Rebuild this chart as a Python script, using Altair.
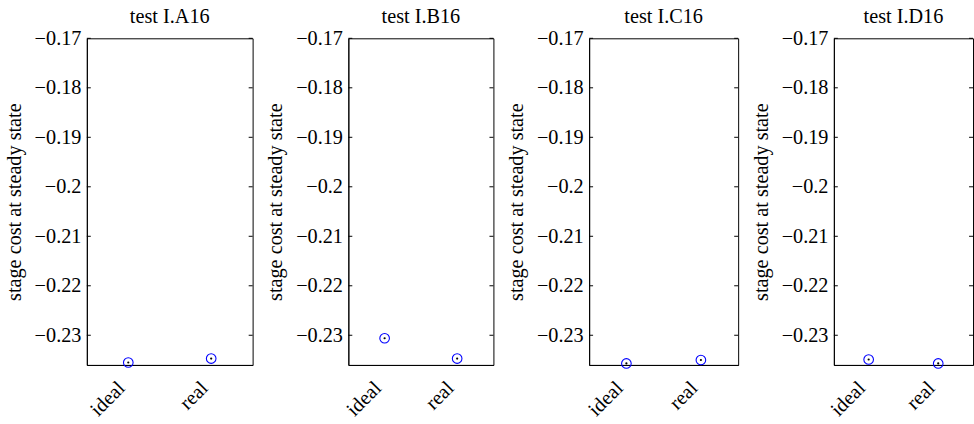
import altair as alt
import pandas as pd

# ---- data ----
tests = ["test I.A16", "test I.B16", "test I.C16", "test I.D16"]
categories = ["ideal", "real"]
ideal_vals = [-0.2355, -0.2306, -0.2357, -0.2349]
real_vals = [-0.2347, -0.2347, -0.2350, -0.2357]
y_ticks = [-0.23, -0.22, -0.21, -0.20, -0.19, -0.18, -0.17]
y_domain = [-0.236, -0.17]
y_title = "stage cost at steady state"

# ---- layout ----
PANEL_W = [168, 147, 151, 141]
PANEL_H = 331
FONT = "Liberation Serif"
FS = 20.5
TICK_LEN = 4


def y_enc():
    return alt.Y(
        "value:Q",
        scale=alt.Scale(domain=y_domain, nice=False, zero=False),
        axis=alt.Axis(
            values=y_ticks, format="~g", title=y_title, tickSize=0, grid=False,
            labelPadding=6, titlePadding=10, labelFlush=False,
            labelFont=FONT, titleFont=FONT, labelFontSize=FS, titleFontSize=FS,
            titleFontWeight="normal", labelColor="black", titleColor="black",
            domainColor="black",
        ),
    )


def panel(i):
    df = pd.DataFrame({"cat": categories, "value": [ideal_vals[i], real_vals[i]]})
    tdf = pd.DataFrame({"value": y_ticks})
    w = PANEL_W[i]
    x = alt.X(
        "cat:N", sort=categories,
        scale=alt.Scale(type="point", padding=0.5),
        axis=alt.Axis(title=None, labelAngle=315, labelAlign="right",
                      labelBaseline="middle", labelPadding=20, labelOffset=-7,
                      tickSize=0, labelFont=FONT, labelFontSize=FS,
                      labelColor="black", domainColor="black"),
    )
    circles = alt.Chart(df).mark_point(
        shape="circle", filled=False, color="#0000ff", size=95, strokeWidth=1.1, opacity=1
    ).encode(x=x, y=y_enc())
    dots = alt.Chart(df).mark_point(
        shape="circle", filled=True, color="black", size=5, opacity=1
    ).encode(x=x, y=y_enc())
    lt = alt.Chart(tdf).mark_rule(color="black", strokeWidth=1).encode(
        y=y_enc(), x=alt.value(0), x2=alt.value(TICK_LEN)
    )
    rt = alt.Chart(tdf).mark_rule(color="black", strokeWidth=1).encode(
        y=y_enc(), x=alt.value(w - TICK_LEN), x2=alt.value(w)
    )
    return alt.layer(circles, dots, lt, rt).properties(
        width=w, height=PANEL_H,
        title=alt.TitleParams(tests[i], offset=1, font=FONT, fontSize=FS,
                              fontWeight="normal", color="black"),
    )


chart = alt.hconcat(*[panel(i) for i in range(4)], spacing=12).properties(
    padding={"left": 4, "top": 4, "right": 0, "bottom": 0}
).configure_view(
    stroke="black", strokeWidth=1
).configure_axis(
    domainColor="black", labelColor="black", titleColor="black",
    labelFont=FONT, titleFont=FONT, labelFontSize=FS, titleFontSize=FS,
    titleFontWeight="normal",
).configure_title(
    font=FONT, fontSize=FS, fontWeight="normal", color="black"
)

chart.save("out.html", embed_options={"renderer": "svg", "actions": False})
